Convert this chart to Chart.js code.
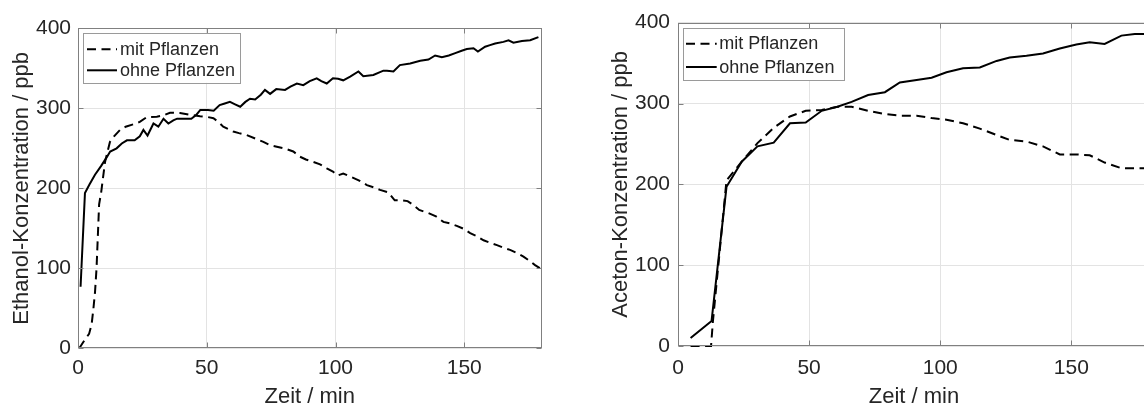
<!DOCTYPE html>
<html>
<head>
<meta charset="utf-8">
<script src="https://cdn.jsdelivr.net/npm/chart.js@4/dist/chart.umd.min.js"></script>
<style>
  html, body { margin: 0; padding: 0; background: #fff; overflow: hidden; width: 1144px; height: 405px; }
  canvas { position: absolute; top: 0; }
  #ethanol { left: 0; }
  #aceton { left: 600px; }
</style>
</head>
<body>
<canvas id="ethanol" width="560" height="412"></canvas>
<canvas id="aceton" width="570" height="412"></canvas>
<script>
// Zeitachse und Konzentrationsachse
const xTicks = [0, 50, 100, 150];
const yTicks = [0, 100, 200, 300, 400];
const seriesLabels = ['mit Pflanzen', 'ohne Pflanzen'];

// Ethanol, mit Pflanzen
const ethMitT = [0.5, 2.5, 4.3, 5.3, 6.0, 6.6, 7.2, 7.7, 8.2, 9.0, 10.5, 12.4, 14, 16.3, 18.5, 21.5, 24, 26.7, 30.6, 33, 35.7, 39.6, 43.5, 47.4, 50.5, 52.6, 54.5, 56.4, 60.3, 62.5, 65.5, 69, 72, 74.5, 77.2, 80, 83.6, 86.2, 88.5, 91.4, 94, 96.6, 99, 100.8, 103, 106.3, 109, 112.2, 115, 117.3, 120.5, 123, 125.7, 128, 130.3, 132.5, 136.1, 139, 141.9, 144.5, 147.1, 150, 152.3, 155, 157.5, 160, 162.7, 165, 167.8, 170.5, 173, 175.5, 177.5, 179.5];
const ethMitV = [0, 10, 18, 30, 50, 70, 100, 140, 180, 195, 233, 258, 265, 273, 277, 280, 283, 289, 289.5, 291, 294.5, 294, 292, 290, 289, 287.5, 283, 277, 271, 269, 266.6, 262, 258, 254, 252, 250, 246, 239.5, 236, 233, 230, 225, 221, 216, 218.5, 214, 210, 204, 201, 198, 195, 185, 185, 184, 179, 173, 169, 165, 158, 156, 153, 149, 144, 140, 135, 132, 129, 126, 123, 119, 114.5, 109, 104, 100];

// Ethanol, ohne Pflanzen
const ethOhneT = [1, 2.7, 4.5, 6.6, 9, 11, 12.5, 15, 17, 19, 22, 24, 25.4, 27, 29.3, 31.2, 33.2, 35.1, 37, 38.5, 41, 44, 46, 47.5, 50.5, 52.7, 55, 57, 59, 61, 63, 65, 66.8, 68.8, 71, 72.6, 74.6, 77, 80.4, 82.5, 85, 87.5, 90, 92.7, 94.5, 96.6, 99, 101, 103, 105.7, 108.9, 110.8, 114.7, 118.6, 120, 122.5, 125, 129, 132.9, 136.1, 138.7, 141.3, 144, 146.5, 149, 151, 153.6, 155.3, 158.1, 160, 162, 165.2, 167.2, 169.1, 172.4, 175.6, 178.8];
const ethOhneV = [77, 194, 205, 217, 228, 238, 246, 250, 256, 260, 260, 265, 273, 266, 281, 277, 287, 281, 285, 287, 287, 287, 292, 298, 298, 297, 304, 306, 308, 305, 302, 308, 312, 311, 317, 323, 318, 324, 323, 327, 331, 329, 334, 337.5, 334, 331, 337.5, 337, 335, 339.5, 346, 340, 341.6, 347, 347, 346, 354, 356, 359.5, 361, 366, 364, 366, 369, 372, 374, 375, 371, 377, 379, 381, 383, 385, 382, 384, 385, 389];

// Aceton, mit Pflanzen
const aceMitT = [4.8, 12.6, 13.3, 18.5, 24.3, 30.3, 36.5, 42.7, 48.7, 54.8, 60.8, 66.2, 72.5, 78.9, 84.6, 91, 96.7, 102.4, 108.7, 115.1, 121.5, 126.5, 132.9, 139.2, 145.6, 151.9, 157, 162.7, 169.1, 174.2, 180];
const aceMitV = [0, 0, 30, 205, 228, 251, 270, 284, 291, 292, 296, 296, 291, 287, 285, 285, 282, 280, 275.6, 269, 261, 255, 253, 247, 237, 237, 236, 227, 220, 220, 220];

// Aceton, ohne Pflanzen
const aceOhneT = [4.8, 12.8, 18.5, 24.3, 30.3, 36.5, 42.7, 48.7, 54.8, 60.8, 66.2, 72.5, 78.9, 84.6, 91, 96.7, 102.4, 108.7, 115.1, 121.5, 126.5, 132.9, 139.2, 145.6, 151.9, 157, 162.7, 169.1, 174.2, 180];
const aceOhneV = [10, 31, 197, 228, 247, 251.6, 275.6, 276.4, 291, 296, 302, 310.6, 314, 326, 329, 332, 338.7, 343.7, 344.6, 352.7, 357, 359, 362, 368, 373, 375.8, 373.8, 384, 386, 386];

const FONT = "'Liberation Sans', Arial, Helvetica, sans-serif";
const TEXT = '#262626';
const GRID = '#e3e3e3';
const FRAME = '#808080';

const toPoints = (ts, vs) => ts.map((t, i) => ({ x: t, y: vs[i] }));

// Achsenrahmen mit nach innen zeigenden Teilstrichen
const frameTicks = {
  id: 'frameTicks',
  afterDatasetsDraw(chart, args, o) {
    const { ctx, chartArea: a, scales: { x, y } } = chart;
    const L = Math.round(a.left) + 0.5, R = Math.round(a.right) - 0.5;
    const T = Math.round(a.top) + 0.5, B = Math.round(a.bottom) - 0.5;
    ctx.save();
    ctx.strokeStyle = o.color;
    ctx.lineWidth = o.width;
    ctx.setLineDash([]);
    ctx.strokeRect(L, T, R - L, B - T);
    ctx.beginPath();
    x.ticks.forEach(t => {
      const px = Math.round(x.getPixelForValue(t.value)) + 0.5;
      ctx.moveTo(px, B); ctx.lineTo(px, B - o.len);
      ctx.moveTo(px, T); ctx.lineTo(px, T + o.len);
    });
    y.ticks.forEach(t => {
      const py = Math.round(y.getPixelForValue(t.value)) + 0.5;
      ctx.moveTo(L, py); ctx.lineTo(L + o.len, py);
      ctx.moveTo(R, py); ctx.lineTo(R - o.len, py);
    });
    ctx.stroke();
    ctx.restore();
  }
};

// Legende im Diagrammfeld
const boxLegend = {
  id: 'boxLegend',
  afterDraw(chart, args, o) {
    const ctx = chart.ctx;
    ctx.save();
    ctx.fillStyle = '#fff';
    ctx.fillRect(o.x, o.y, o.w, o.h);
    ctx.strokeStyle = o.border;
    ctx.lineWidth = 1;
    ctx.strokeRect(Math.round(o.x) + 0.5, Math.round(o.y) + 0.5, Math.round(o.w), Math.round(o.h));
    chart.data.datasets.forEach((ds, i) => {
      const cy = o.rows[i];
      ctx.setLineDash(ds.borderDash || []);
      ctx.lineWidth = ds.borderWidth;
      ctx.strokeStyle = ds.borderColor;
      ctx.beginPath();
      ctx.moveTo(o.lineX0, cy);
      ctx.lineTo(o.lineX1, cy);
      ctx.stroke();
      ctx.setLineDash([]);
      ctx.font = `${o.fontSize}px ${FONT}`;
      ctx.fillStyle = TEXT;
      ctx.textBaseline = 'middle';
      ctx.textAlign = 'left';
      ctx.fillText(ds.label, o.textX, cy + 0.7);
    });
    ctx.restore();
  }
};

function makeChart(id, mit, ohne, yTitle, layout) {
  return new Chart(document.getElementById(id), {
    type: 'line',
    data: {
      datasets: [
        { label: seriesLabels[0], data: mit, borderColor: '#000', borderWidth: 2, borderDash: [9, 5.5], pointRadius: 0, fill: false, tension: 0, clip: 3 },
        { label: seriesLabels[1], data: ohne, borderColor: '#000', borderWidth: 2, pointRadius: 0, fill: false, tension: 0, clip: 3 }
      ]
    },
    plugins: [frameTicks, boxLegend],
    options: {
      responsive: false,
      animation: false,
      devicePixelRatio: 1,
      events: [],
      layout: { padding: { left: 0, right: layout.padRight, top: layout.padTop, bottom: 0 } },
      plugins: {
        legend: { display: false },
        tooltip: { enabled: false },
        frameTicks: { color: FRAME, width: 1, len: 5 },
        boxLegend: layout.legend
      },
      scales: {
        x: {
          type: 'linear',
          min: 0,
          max: 180,
          afterBuildTicks: s => { s.ticks = xTicks.map(v => ({ value: v })); },
          afterFit: s => { s.height = layout.xAxisHeight; },
          grid: { color: GRID, lineWidth: 1, drawTicks: false },
          border: { display: false },
          ticks: { padding: layout.xTickPad, color: TEXT, font: { family: FONT, size: 21 }, maxRotation: 0 },
          title: { display: true, text: 'Zeit / min', color: TEXT, font: { family: FONT, size: 22 }, padding: { top: 0, bottom: 2.3 } }
        },
        y: {
          type: 'linear',
          min: 0,
          max: 400,
          afterBuildTicks: s => { s.ticks = yTicks.map(v => ({ value: v })); },
          afterFit: s => { s.width = 78; },
          grid: { color: GRID, lineWidth: 1, drawTicks: false },
          border: { display: false },
          ticks: { padding: layout.yTickPad, color: TEXT, font: { family: FONT, size: 21 } },
          title: { display: true, text: yTitle, color: TEXT, font: { family: FONT, size: 22 }, padding: { top: layout.yTitlePad, bottom: 0 } }
        }
      }
    }
  });
}

makeChart('ethanol',
  toPoints(ethMitT, ethMitV), toPoints(ethOhneT, ethOhneV),
  'Ethanol-Konzentration / ppb',
  {
    padRight: 18.5, padTop: 28.3, xAxisHeight: 412 - 348.3, xTickPad: 7, yTickPad: 7, yTitlePad: 8.8,
    legend: { x: 83.3, y: 33.3, w: 157, h: 49.5, rows: [49.3, 70.3], lineX0: 87, lineX1: 117, textX: 120, fontSize: 18, border: '#9a9a9a' }
  });

makeChart('aceton',
  toPoints(aceMitT, aceMitV), toPoints(aceOhneT, aceOhneV),
  'Aceton-Konzentration / ppb',
  {
    padRight: 20, padTop: 22.7, xAxisHeight: 412 - 346, xTickPad: 9.5, yTickPad: 8, yTitlePad: 7.3,
    legend: { x: 82.7, y: 28.3, w: 160.6, h: 51.7, rows: [43.8, 67], lineX0: 86, lineX1: 116.7, textX: 119.3, fontSize: 18, border: '#9a9a9a' }
  });
</script>
</body>
</html>
